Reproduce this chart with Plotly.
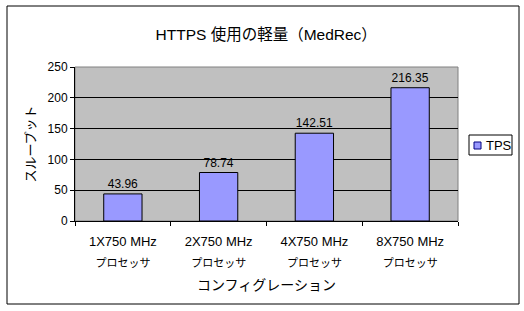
import plotly.graph_objects as go

cat_line1 = ["1X750 MHz", "2X750 MHz", "4X750 MHz", "8X750 MHz"]
cat_line2 = ["プロセッサ", "プロセッサ", "プロセッサ", "プロセッサ"]
tps = [43.96, 78.74, 142.51, 216.35]
labels = ["43.96", "78.74", "142.51", "216.35"]
yticks = [0, 50, 100, 150, 200, 250]
series_name = "TPS"

FONT = "Liberation Sans, Arial, Noto Sans CJK JP, sans-serif"

L, R, T, B = 75, 66, 67, 90
W, H = 524, 311
pw, ph = W - L - R, H - T - B

def px(x):
    return (x - L) / pw

def py(y):
    return (H - B - y) / ph

positions = list(range(len(cat_line1)))

fig = go.Figure()
fig.add_trace(go.Bar(
    x=positions, y=tps, name=series_name, showlegend=False,
    marker=dict(color="#9999FF", line=dict(color="black", width=1)),
    text=labels, textposition="outside", cliponaxis=False,
    textfont=dict(size=12, color="black", family=FONT),
))

fig.update_layout(
    width=W, height=H,
    margin=dict(l=L, r=R, t=T, b=B, autoexpand=False),
    paper_bgcolor="white", plot_bgcolor="#C0C0C0",
    font=dict(family=FONT, size=12, color="black"),
    bargap=0.6,
    title=dict(text="HTTPS 使用の軽量（MedRec）", x=0.508, xanchor="center",
               y=1 - 35 / H, yanchor="middle", font=dict(size=15.5, family=FONT)),
    showlegend=False,
    xaxis=dict(range=[-0.5, len(cat_line1) - 0.5], tickvals=positions, ticktext=cat_line1,
               ticks="", showline=True, linecolor="black", linewidth=1,
               showgrid=False, zeroline=False, tickfont=dict(size=13),
               ticklabelstandoff=8,
               title=dict(text="コンフィグレーション", font=dict(size=14), standoff=32)),
    xaxis2=dict(overlaying="x", side="bottom", matches="x", anchor="y",
                tickvals=positions, ticktext=cat_line2, ticks="", showline=False,
                showgrid=False, zeroline=False, tickfont=dict(size=11),
                ticklabelstandoff=34),
    xaxis3=dict(overlaying="x", side="bottom", matches="x", anchor="y",
                tickvals=[p + 0.5 for p in [-1] + positions], ticktext=[""] * (len(positions) + 1),
                ticks="outside", ticklen=4, tickcolor="black", showline=False,
                showgrid=False, zeroline=False),
    yaxis=dict(range=[0, 250], tickvals=yticks, ticks="outside", ticklen=4,
               tickcolor="black", showline=True, linecolor="black", linewidth=1,
               showgrid=True, gridcolor="black", gridwidth=1, zeroline=False,
               tickfont=dict(size=12),
               title=dict(text="スループット", font=dict(size=13), standoff=9)),
    shapes=[
        dict(type="rect", xref="paper", yref="paper",
             x0=px(7), x1=px(519), y0=py(304), y1=py(6),
             line=dict(color="black", width=1), fillcolor="rgba(0,0,0,0)", layer="below"),
        dict(type="rect", xref="paper", yref="paper", x0=0, x1=1, y0=0, y1=1,
             line=dict(color="#808080", width=1), fillcolor="rgba(0,0,0,0)", layer="below"),
        # legend box
        dict(type="rect", xref="paper", yref="paper",
             x0=px(469), x1=px(512), y0=py(155), y1=py(135),
             line=dict(color="black", width=1), fillcolor="white", layer="above"),
        # legend swatch
        dict(type="rect", xref="paper", yref="paper",
             x0=px(474), x1=px(481), y0=py(149), y1=py(142),
             line=dict(color="#000080", width=1), fillcolor="#9999FF", layer="above"),
    ],
    annotations=[
        dict(text=series_name, xref="paper", yref="paper", x=px(484), y=py(145.5),
             xanchor="left", yanchor="middle", showarrow=False,
             font=dict(size=13, family=FONT, color="black")),
    ],
)

# dummy traces so the overlaid axes render
fig.add_trace(go.Scatter(x=[positions[0]], y=[0], xaxis="x2", mode="markers",
                         marker=dict(opacity=0), hoverinfo="skip", showlegend=False))
fig.add_trace(go.Scatter(x=[positions[0]], y=[0], xaxis="x3", mode="markers",
                         marker=dict(opacity=0), hoverinfo="skip", showlegend=False))

fig.write_html("out.html")
